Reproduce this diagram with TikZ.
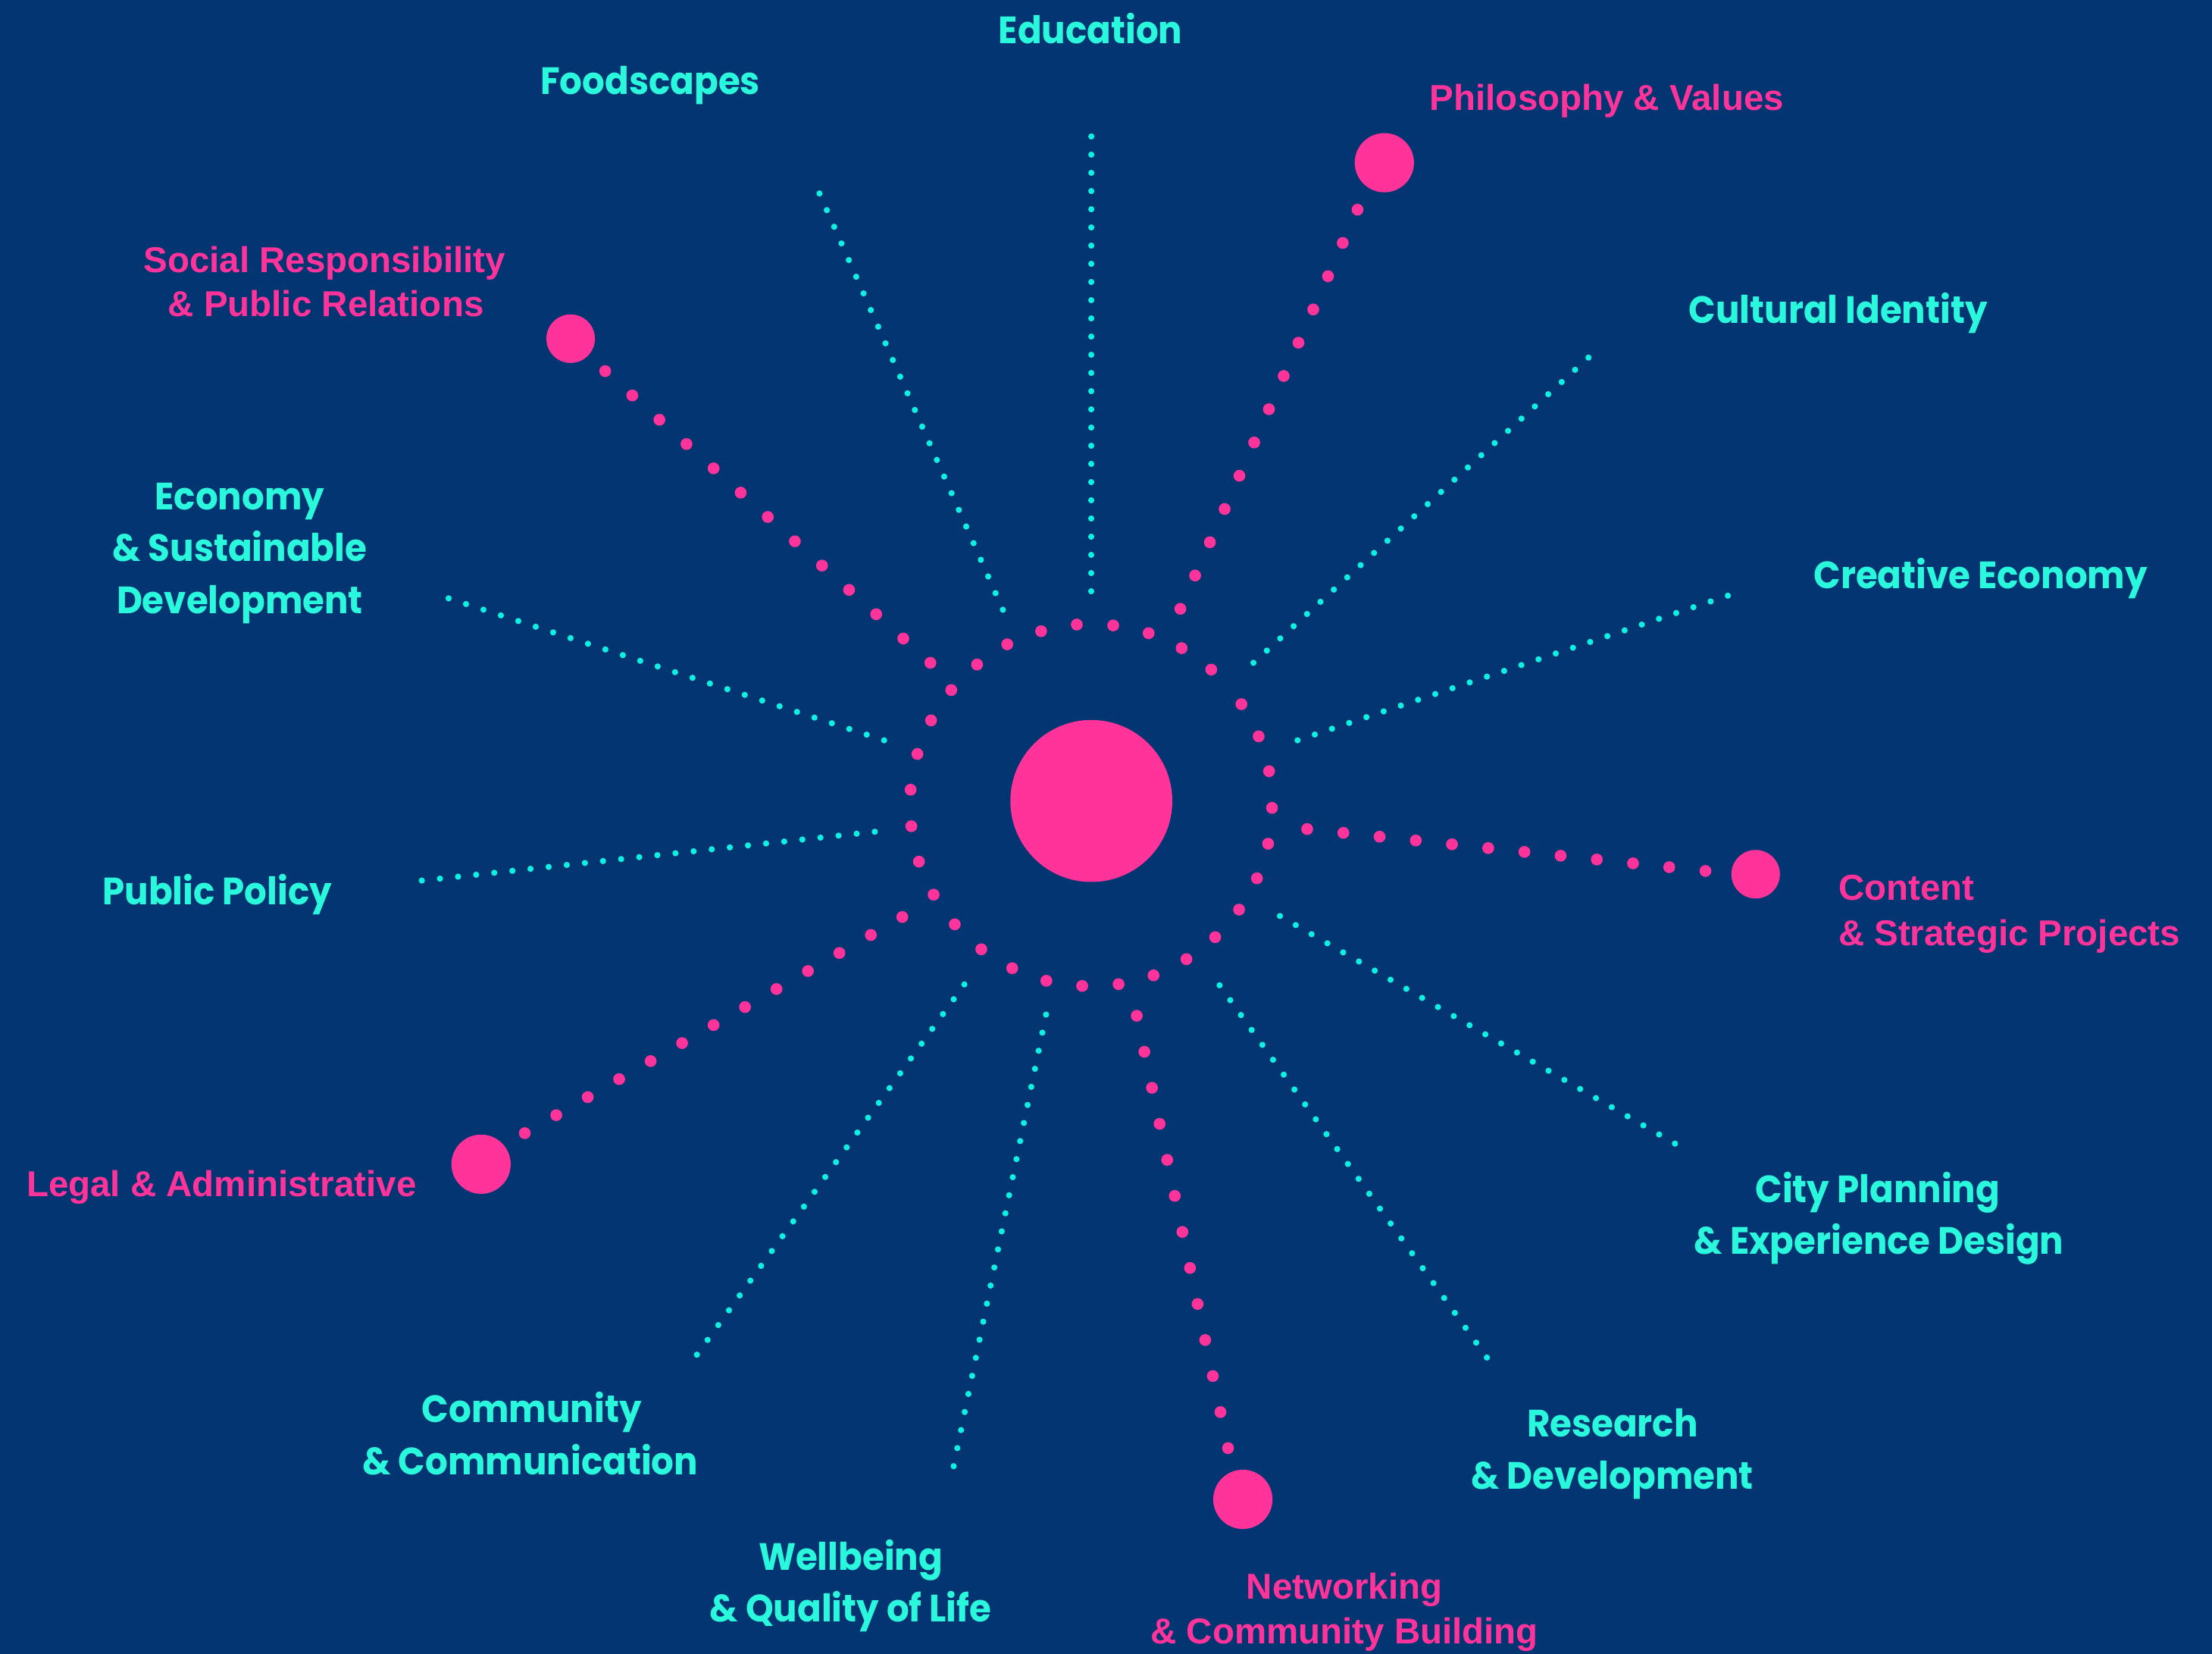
\documentclass[tikz,border=0pt]{standalone}
\usepackage{fontspec}
\usetikzlibrary{calc}
\newfontfamily\cyfont{Poppins}[FakeStretch=0.93]
\newfontfamily\pkfont{Liberation Sans}
\definecolor{bg}{HTML}{043573}
\definecolor{pk}{HTML}{FF3399}
\definecolor{cytext}{HTML}{2AF8DC}
\definecolor{cydot}{HTML}{0DF0E2}
\tikzset{
  cylab/.style={text=cytext, font=\cyfont\bfseries\fontsize{27}{32}\selectfont, inner sep=0pt, anchor=base},
  pklab/.style={text=pk, font=\pkfont\bfseries\fontsize{25.5}{30}\selectfont, inner sep=0pt, anchor=base},
  bigdot/.style={circle, fill=pk, inner sep=0pt, draw=none},
}
\newcommand{\pinkline}[3]{\foreach \i in {0,...,#3} \fill[pk] ($(#1)!\i/#3!(#2)$) circle (4.2);}
\newcommand{\cyanline}[3]{\foreach \i in {0,...,#3} \fill[cydot] ($(#1)!\i/#3!(#2)$) circle (2.2);}
\begin{document}
\begin{tikzpicture}[x=1pt,y=-1pt]
\fill[bg] (0,0) rectangle (1568,1172);
\useasboundingbox (0,0) rectangle (1568,1172);

% hub
\node[bigdot, minimum size=114.8pt] (hub) at (773.6,567.6) {};

% ring
\foreach \x/\y in {763.3/442.6, 789.1/443.2, 814.2/448.7, 837.6/459.3, 858.6/474.5, 880/499, 892.2/521.8, 899.6/546.5, 901.7/572.5, 898.9/597.9, 891/622.4, 878.3/644.6, 861.4/664.1, 841/679.7, 817.7/691.2, 792.9/697.4, 767.1/698.7, 741.7/695, 717.5/686.1, 695.6/672.7, 676.8/655, 661.8/634, 651.4/610.6, 646/585.5, 645.5/559.6, 650.3/534.3, 660/510.5, 674.3/489, 692.6/470.9, 714/456.6, 738/447.3}
  \fill[pk] (\x,\y) circle (4.2);

% pink spokes
\coordinate (philA) at (836.7,431.4); \coordinate (philB) at (962.3,148.6);
\coordinate (socA) at (659.5,469.7);  \coordinate (socB) at (429,263);
\coordinate (contA) at (926.6,587.5); \coordinate (contB) at (1208.9,617.2);
\coordinate (legA) at (639.6,649.8);  \coordinate (legB) at (372,803);
\coordinate (netA) at (805.8,719.8);  \coordinate (netB) at (870.5,1026.2);
\pinkline{philA}{philB}{12}
\pinkline{socA}{socB}{12}
\pinkline{contA}{contB}{11}
\pinkline{legA}{legB}{12}
\pinkline{netA}{netB}{12}
\node[bigdot, minimum size=42pt] (philDot) at (981.3,115.3) {};
\node[bigdot, minimum size=34.4pt] (socDot) at (404.5,240) {};
\node[bigdot, minimum size=34.4pt] (contDot) at (1244.5,619.5) {};
\node[bigdot, minimum size=42pt] (legDot) at (341,825) {};
\node[bigdot, minimum size=42pt] (netDot) at (881,1062.5) {};

% cyan spokes
\coordinate (eduA) at (773.5,419);   \coordinate (eduB) at (773.6,96.7);
\coordinate (foodA) at (710.9,432.1); \coordinate (foodB) at (580.9,137.1);
\coordinate (cultA) at (888.5,469.7); \coordinate (cultB) at (1126,253.4);
\coordinate (creaA) at (919.8,524.6); \coordinate (creaB) at (1224.8,422.1);
\coordinate (econA) at (626.7,524.6); \coordinate (econB) at (318,424);
\coordinate (pubA) at (620.1,589.4);  \coordinate (pubB) at (299,624);
\coordinate (cityA) at (907.3,649.1); \coordinate (cityB) at (1187.3,810.4);
\coordinate (resA) at (864.5,698.2);  \coordinate (resB) at (1054,962);
\coordinate (commA) at (683.6,697.6); \coordinate (commB) at (494,960);
\coordinate (wellA) at (741.5,719);   \coordinate (wellB) at (676,1039);
\cyanline{eduA}{eduB}{25}
\cyanline{foodA}{foodB}{25}
\cyanline{cultA}{cultB}{25}
\cyanline{creaA}{creaB}{25}
\cyanline{econA}{econB}{25}
\cyanline{pubA}{pubB}{25}
\cyanline{cityA}{cityB}{25}
\cyanline{resA}{resB}{25}
\cyanline{commA}{commB}{25}
\cyanline{wellA}{wellB}{25}

% cyan labels
\node[cylab] (lEdu) at (773,31) {Education};
\node[cylab] (lFood) at (461,67) {Foodscapes};
\node[cylab] (lCult) at (1303,229) {Cultural Identity};
\node[cylab] (lEcon1) at (170,361) {Economy};
\node[cylab] (lEcon2) at (170,398) {\& Sustainable};
\node[cylab] (lEcon3) at (170,435) {Development};
\node[cylab] (lCrea) at (1404,417) {Creative Economy};
\node[cylab] (lPub) at (154,641) {Public Policy};
\node[cylab] (lCity1) at (1331,852) {City Planning};
\node[cylab] (lCity2) at (1332,889) {\& Experience Design};
\node[cylab] (lComm1) at (377,1008) {Community};
\node[cylab] (lComm2) at (376,1045) {\& Communication};
\node[cylab] (lRes1) at (1143,1018) {Research};
\node[cylab] (lRes2) at (1143,1055) {\& Development};
\node[cylab] (lWell1) at (603,1113) {Wellbeing};
\node[cylab] (lWell2) at (603,1149) {\& Quality of Life};

% pink labels
\node[pklab] (lPhil) at (1139,78) {Philosophy \& Values};
\node[pklab] (lSoc1) at (230,193) {Social Responsibility};
\node[pklab] (lSoc2) at (231,224) {\& Public Relations};
\node[pklab, anchor=base west] (lCont1) at (1303,638) {Content};
\node[pklab, anchor=base west] (lCont2) at (1303,670) {\& Strategic Projects};
\node[pklab] (lLeg) at (157,848) {Legal \& Administrative};
\node[pklab] (lNet1) at (953,1133) {Networking};
\node[pklab] (lNet2) at (953,1165) {\& Community Building};
\end{tikzpicture}
\end{document}
